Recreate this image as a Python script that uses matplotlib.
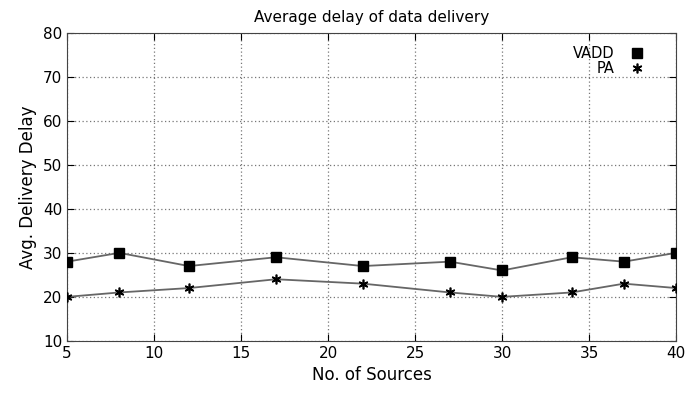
import numpy as np
import matplotlib.pyplot as plt
from matplotlib.lines import Line2D

# Daten
sources = [5, 8, 12, 17, 22, 27, 30, 34, 37, 40]
vadd = [28, 30, 27, 29, 27, 28, 26, 29, 28, 30]
pa = [20, 21, 22, 24, 23, 21, 20, 21, 23, 22]
xticks = [5, 10, 15, 20, 25, 30, 35, 40]
yticks = [10, 20, 30, 40, 50, 60, 70, 80]

fig = plt.figure(figsize=(6.85, 4.01), dpi=100)
ax = fig.add_axes([0.098, 0.150, 0.889, 0.768])

ax.plot(sources, vadd, color='#666666', lw=1.3, marker='s', ms=7,
        mfc='black', mec='black', zorder=3)
ax.plot(sources, pa, color='#666666', lw=1.3, marker=(6, 2, 0), ms=7,
        mfc='black', mec='black', mew=1.2, zorder=3)

ax.set_xlim(5, 40)
ax.set_ylim(10, 80)
ax.set_xticks(xticks)
ax.set_yticks(yticks)
ax.grid(True, linestyle=(0, (1, 2)), color='#777777', lw=0.9)
ax.tick_params(direction='in', top=True, right=True, labelsize=11, length=5)
for s in ax.spines.values():
    s.set_color('#444444')

ax.set_title('Average delay of data delivery', fontsize=11, pad=8)
ax.set_xlabel('No. of Sources', fontsize=12)
ax.set_ylabel('Avg. Delivery Delay', fontsize=12)

handles = [Line2D([], [], ls='none', marker='s', ms=7, mfc='black', mec='black'),
           Line2D([], [], ls='none', marker=(6, 2, 0), ms=7, mfc='black',
                  mec='black', mew=1.2)]
ax.legend(handles, ['VADD', 'PA'], loc='upper right', frameon=False,
          markerfirst=False, labelspacing=-0.05, handlelength=1.0,
          handletextpad=1.0, fontsize=10.5, borderaxespad=0.0,
          bbox_to_anchor=(0.957, 0.975))

fig.savefig('out.png', dpi=100)
